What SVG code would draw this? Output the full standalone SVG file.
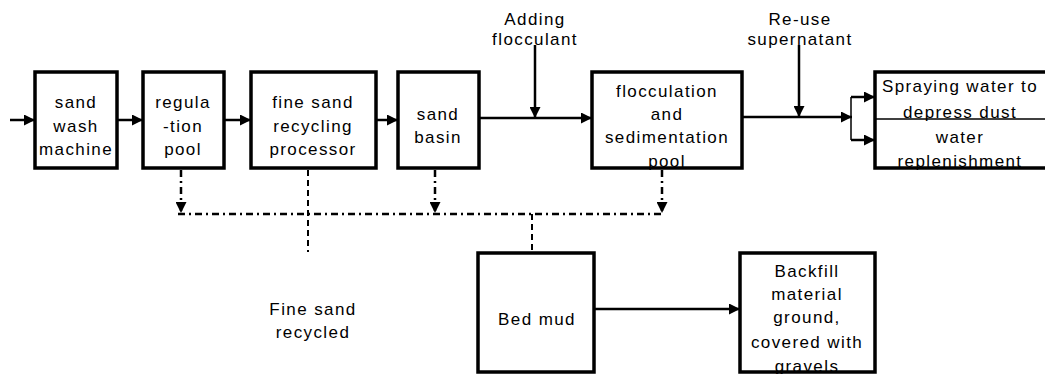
<svg xmlns="http://www.w3.org/2000/svg" width="1045" height="374" viewBox="0 0 1045 374">
  <style>
    .box { fill: #fff; stroke: #000; stroke-width: 3.5; }
    .flow { stroke: #000; stroke-width: 2.5; fill: none; }
    .thin { stroke: #000; stroke-width: 1.5; fill: none; }
    .dashdot { stroke: #000; stroke-width: 2.5; fill: none; stroke-dasharray: 7 4 2 4; }
    .dashed { stroke: #000; stroke-width: 2; fill: none; stroke-dasharray: 6 4; }
    text { font-family: "Liberation Sans", Arial, sans-serif; font-size: 17px; fill: #000; text-anchor: middle; letter-spacing: 1.4px; }
  </style>
  <defs>
    <marker id="arrow" viewBox="0 0 10 10" refX="10" refY="5" markerWidth="12" markerHeight="11" markerUnits="userSpaceOnUse" orient="auto">
      <path d="M0,0 L10,5 L0,10 Z" fill="#000"/>
    </marker>
  </defs>

  <!-- process boxes -->
  <g id="sand-wash-machine">
    <rect class="box" x="35" y="72" width="82" height="96"/>
    <text x="76" y="108">sand</text>
    <text x="76" y="132">wash</text>
    <text x="76" y="155">machine</text>
  </g>
  <g id="regulation-pool">
    <rect class="box" x="143" y="72" width="81" height="96"/>
    <text x="183" y="108">regula</text>
    <text x="183" y="132">-tion</text>
    <text x="183" y="155">pool</text>
  </g>
  <g id="fine-sand-processor">
    <rect class="box" x="251" y="72" width="125" height="96"/>
    <text x="313" y="108">fine sand</text>
    <text x="313" y="132">recycling</text>
    <text x="313" y="155">processor</text>
  </g>
  <g id="sand-basin">
    <rect class="box" x="398" y="72" width="81" height="96"/>
    <text x="438" y="120">sand</text>
    <text x="438" y="143">basin</text>
  </g>
  <g id="flocculation-pool">
    <rect class="box" x="592" y="72" width="150" height="96"/>
    <text x="667" y="97">flocculation</text>
    <text x="667" y="120">and</text>
    <text x="667" y="143">sedimentation</text>
    <text x="667" y="167">pool</text>
  </g>
  <g id="water-use">
    <rect class="box" x="875" y="72" width="180" height="96"/>
    <line class="thin" x1="875" y1="119" x2="1045" y2="119"/>
    <text x="960" y="92">Spraying water to</text>
    <text x="960" y="118">depress dust</text>
    <text x="960" y="143">water</text>
    <text x="960" y="167">replenishment</text>
  </g>
  <g id="bed-mud">
    <rect class="box" x="478" y="253" width="116" height="119"/>
    <text x="537" y="325">Bed mud</text>
  </g>
  <g id="backfill">
    <rect class="box" x="740" y="253" width="135" height="119"/>
    <text x="807" y="277">Backfill</text>
    <text x="807" y="300">material</text>
    <text x="807" y="323">ground,</text>
    <text x="807" y="348">covered with</text>
    <text x="807" y="372">gravels</text>
  </g>

  <!-- free labels -->
  <g id="labels">
    <text x="535" y="25">Adding</text>
    <text x="535" y="45">flocculant</text>
    <text x="800" y="25">Re-use</text>
    <text x="800" y="45">supernatant</text>
    <text x="313" y="315">Fine sand</text>
    <text x="313" y="338">recycled</text>
  </g>

  <!-- connectors -->
  <g id="connectors">
    <line class="flow" x1="10" y1="120" x2="35" y2="120" marker-end="url(#arrow)"/>
    <line class="flow" x1="117" y1="120" x2="143" y2="120" marker-end="url(#arrow)"/>
    <line class="flow" x1="224" y1="120" x2="251" y2="120" marker-end="url(#arrow)"/>
    <line class="flow" x1="376" y1="120" x2="398" y2="120" marker-end="url(#arrow)"/>
    <line class="flow" x1="479" y1="118" x2="592" y2="118" marker-end="url(#arrow)"/>
    <line class="flow" x1="535" y1="45" x2="535" y2="118" marker-end="url(#arrow)"/>
    <line class="flow" x1="742" y1="117" x2="852" y2="117" marker-end="url(#arrow)"/>
    <line class="flow" x1="799" y1="45" x2="799" y2="117" marker-end="url(#arrow)"/>
    <line class="thin" x1="851" y1="97" x2="851" y2="140"/>
    <line class="flow" x1="851" y1="97" x2="875" y2="97" marker-end="url(#arrow)"/>
    <line class="flow" x1="851" y1="140" x2="875" y2="140" marker-end="url(#arrow)"/>
    <line class="flow" x1="594" y1="309" x2="740" y2="309" marker-end="url(#arrow)"/>

    <!-- sludge collection -->
    <line class="dashdot" x1="181" y1="170" x2="181" y2="213" marker-end="url(#arrow)"/>
    <line class="dashdot" x1="435" y1="170" x2="435" y2="213" marker-end="url(#arrow)"/>
    <line class="dashdot" x1="662" y1="170" x2="662" y2="213" marker-end="url(#arrow)"/>
    <line class="dashdot" x1="178" y1="214" x2="663" y2="214"/>
    <line class="dashed" x1="308" y1="170" x2="308" y2="252"/>
    <line class="dashed" x1="532" y1="214" x2="532" y2="252"/>
  </g>
</svg>
